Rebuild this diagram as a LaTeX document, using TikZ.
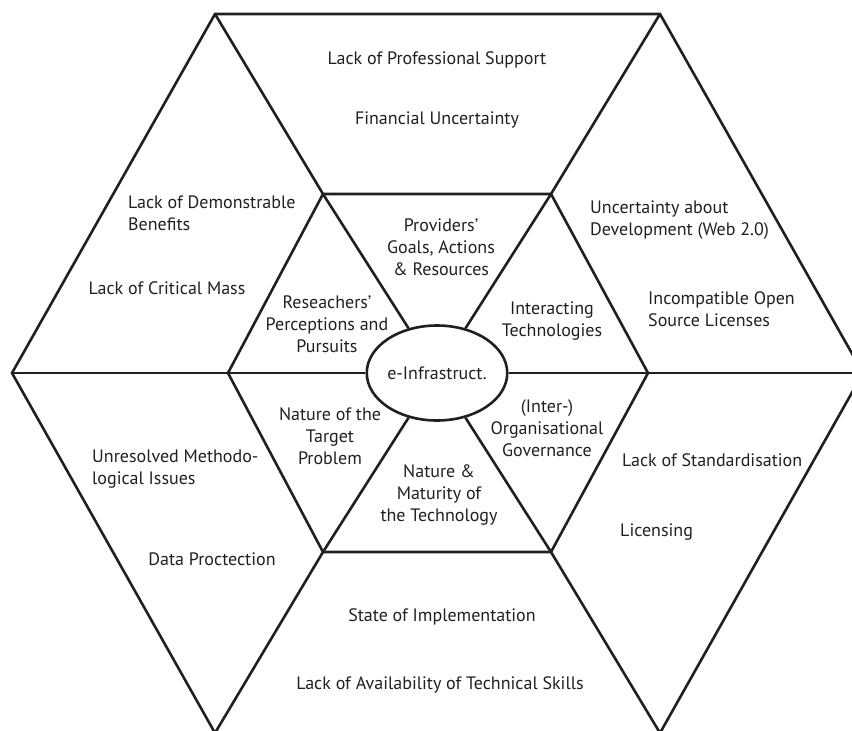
\documentclass[tikz,border=0pt]{standalone}
\usepackage{fontspec}
\setmainfont{PT Sans}
\usetikzlibrary{shapes.geometric}
\definecolor{ink}{HTML}{231F20}
\begin{document}
\begin{tikzpicture}[x=1pt,y=-1pt,
  ln/.style={draw=ink,line width=2.6pt,line join=miter},
  lbl/.style={text=ink,font=\fontsize{18}{22}\selectfont,inner sep=0pt,align=center},
  lbll/.style={lbl,align=left,anchor=west}]
\useasboundingbox (0,0) rectangle (852,731);
\clip (0,0) rectangle (852,731);
% outer vertices
\coordinate (O1) at (215,14);
\coordinate (O2) at (660,14);
\coordinate (O3) at (863,373);
\coordinate (O4) at (660,733);
\coordinate (O5) at (215,733);
\coordinate (O6) at (12,373);
% inner vertices
\coordinate (I1) at (323,194);
\coordinate (I2) at (551,194);
\coordinate (I3) at (648,373);
\coordinate (I4) at (551,552);
\coordinate (I5) at (323,552);
\coordinate (I6) at (228,373);
% centre ellipse
\node[ln,ellipse,minimum width=107pt,minimum height=95pt,inner sep=0pt,
      text=ink,font=\fontsize{18}{22}\selectfont] (c) at (437,373) {e-Infrastruct.};
% outer hexagon
\draw[ln] (O1) -- (O2) -- (O3) -- (O4) -- (O5) -- (O6) -- cycle;
% inner hexagon
\draw[ln] (I1) -- (I2) -- (I3) -- (I4) -- (I5) -- (I6) -- cycle;
% outer-to-inner connectors
\draw[ln] (O1) -- (I1);
\draw[ln] (O2) -- (I2);
\draw[ln] (O3) -- (I3);
\draw[ln] (O4) -- (I4);
\draw[ln] (O5) -- (I5);
\draw[ln] (O6) -- (I6);
% spokes to centre
\foreach \v in {I1,I2,I3,I4,I5,I6} \draw[ln] (\v) -- (c);
% labels
\node[lbl] (t1) at (437,60) {Lack of Professional Support};
\node[lbl] (t2) at (437,120) {Financial Uncertainty};
\node[lbll] (t3) at (128,213) {Lack of Demonstrable\\Benefits};
\node[lbl] (t4) at (167,288) {Lack of Critical Mass};
\node[lbl] (t5) at (327,324) {Reseachers’\\Perceptions and\\Pursuits};
\node[lbl] (t6) at (441,247) {Providers’\\Goals, Actions\\\& Resources};
\node[lbl] (t7) at (552,321) {Interacting\\Technologies};
\node[lbll] (t8) at (590,220) {Uncertainty about\\Development (Web 2.0)};
\node[lbll] (t9) at (648,309) {Incompatible Open\\Source Licenses};
\node[lbl] (t11) at (330,436) {Nature of the\\Target\\Problem};
\node[lbl] (t12) at (547,428) {(Inter-)\\Organisational\\Governance};
\node[lbll] (t13) at (92,469) {Unresolved Methodo-\\logical Issues};
\node[lbl] (t14) at (439,495) {Nature \&\\Maturity of\\the Technology};
\node[lbll] (t15) at (622,460) {Lack of Standardisation};
\node[lbll] (t16) at (620,532) {Licensing};
\node[lbl] (t17) at (212,559) {Data Proctection};
\node[lbl] (t18) at (442,617) {State of Implementation};
\node[lbl] (t19) at (440,685) {Lack of Availability of Technical Skills};
\end{tikzpicture}
\end{document}
